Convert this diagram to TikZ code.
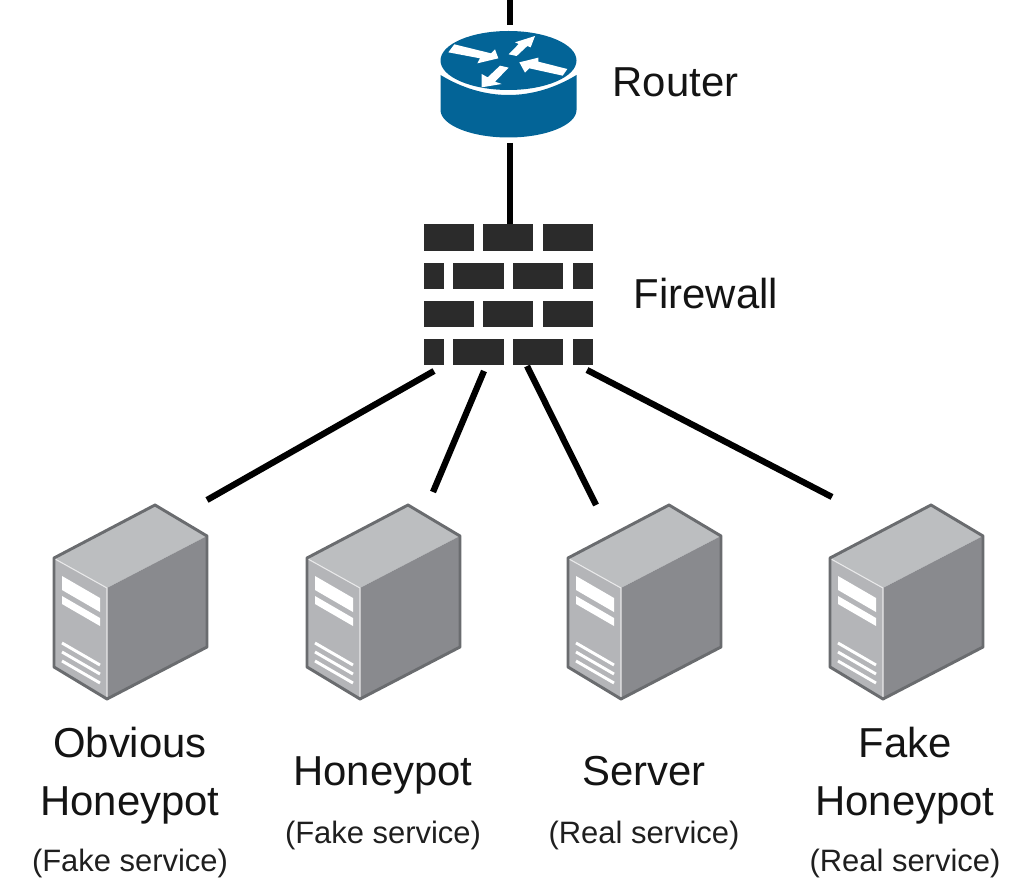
\documentclass[tikz,border=0pt]{standalone}
\usepackage{fontspec}
\setmainfont{Liberation Sans}
\definecolor{routerblue}{HTML}{036497}
\definecolor{brick}{HTML}{2B2B2B}
\definecolor{srvedge}{HTML}{6A6C6F}
\definecolor{srvtop}{HTML}{BCBEC0}
\definecolor{srvside}{HTML}{898A8E}
\definecolor{srvfront}{HTML}{B4B5B8}
\newcommand{\serverat}[2]{%
  \begin{scope}[shift={(#1,#2)}]
    \fill[srvfront] (0,0) -- (53,30) -- (53,141) -- (0,109) -- cycle;
    \fill[srvtop] (0,0) -- (101,-53) -- (153,-22) -- (53,30) -- cycle;
    \fill[srvside] (53,30) -- (153,-22) -- (153,89) -- (53,141) -- cycle;
    \fill[white] (8,18) -- (46,40) -- (46,54) -- (8,32) -- cycle;
    \fill[white] (8,38) -- (46,60) -- (46,68) -- (8,46) -- cycle;
    \draw[ventline] (8,85) -- (46,107);
    \draw[ventline] (8,94) -- (46,116);
    \draw[ventline] (8,103) -- (46,125);
    \draw[white!70!srvfront,line width=.8pt] (1,1) -- (53,30) -- (53,140);
    \draw[srvedge,line width=2.2pt,line join=round] (0,0) -- (101,-53) -- (153,-22) -- (153,89) -- (53,141) -- (0,109) -- cycle;
  \end{scope}}
\tikzset{
  link/.style={line width=4.7pt,black},
  ventline/.style={white,line width=2.2pt},
  bricknode/.style={fill=brick},
  biglabel/.style={font=\fontsize{31.4}{31.4}\selectfont,anchor=base,inner sep=0pt,text=black!92},
  smalllabel/.style={font=\fontsize{23.2}{23.2}\selectfont,anchor=base,inner sep=0pt,text=black!88},
  arrowfill/.style={fill=white}
}
\begin{document}
\begin{tikzpicture}[x=0.75pt,y=-0.75pt]
\useasboundingbox (0,0) rectangle (1027,891);
% connector end points
\coordinate (net) at (510,0);
\coordinate (rtop) at (510,25);
\coordinate (rbot) at (510,143);
\coordinate (fwtop) at (510,226);
\coordinate (fw1) at (434,371);
\coordinate (fw2) at (484,371);
\coordinate (fw3) at (527,366);
\coordinate (fw4) at (587,370);
\coordinate (s1) at (207,500);
\coordinate (s2) at (433,492);
\coordinate (s3) at (596,505);
\coordinate (s4) at (832,497);
\draw[link] (net) -- (rtop);
\draw[link] (rbot) -- (fwtop);
\draw[link] (fw1) -- (s1);
\draw[link] (fw2) -- (s2);
\draw[link] (fw3) -- (s3);
\draw[link] (fw4) -- (s4);
% router
\fill[routerblue] (508.5,60.5) ellipse [x radius=68, y radius=29.5];
\fill[routerblue] (440.5,75) .. controls (462,88) and (485,95) .. (508.5,95) .. controls (532,95) and (555,88) .. (576.5,75) -- (576.5,110) .. controls (576.5,125) and (546,137.5) .. (508.5,137.5) .. controls (471,137.5) and (440.5,125) .. (440.5,110) -- cycle;
\begin{scope}[shift={(420,0)},scale=1/3]
  \fill[arrowfill] (103,133) -- (213,160) -- (225,148) -- (235,175) -- (172,190) -- (180,175) -- (85,157) -- cycle;
  \fill[arrowfill] (266,163) -- (290,168) -- (322,138) -- (332,142) -- (345,108) -- (285,127) -- (296,132) -- cycle;
  \fill[arrowfill] (442,207) -- (355,185) -- (355,173) -- (298,187) -- (315,218) -- (328,205) -- (428,227) -- cycle;
  \fill[arrowfill] (240,197) -- (266,203) -- (225,245) -- (245,252) -- (185,262) -- (185,222) -- (203,232) -- cycle;
\end{scope}
\node[biglabel] (routerlabel) at (675.5,97) {Router};
% firewall
\foreach \ya/\yb in {224.3/251,300.7/326.7}{
  \fill[bricknode] (424,\ya) rectangle (474,\yb);
  \fill[bricknode] (483,\ya) rectangle (533.3,\yb);
  \fill[bricknode] (542.7,\ya) rectangle (592.7,\yb);
}
\foreach \ya/\yb in {262.7/289,338.7/365}{
  \fill[bricknode] (424,\ya) rectangle (444.3,\yb);
  \fill[bricknode] (453.3,\ya) rectangle (503.7,\yb);
  \fill[bricknode] (512.7,\ya) rectangle (563.3,\yb);
  \fill[bricknode] (572.7,\ya) rectangle (592.7,\yb);
}
\node[biglabel] (firewalllabel) at (706,308) {Firewall};
% servers
\serverat{54}{558}
\serverat{307}{558}
\serverat{568}{558}
\serverat{830}{558}
% labels
\node[biglabel] (l1a) at (130,757) {Obvious};
\node[biglabel] (l1b) at (130,815) {Honeypot};
\node[smalllabel] (l1c) at (130,871) {(Fake service)};
\node[biglabel] (l2a) at (383,785) {Honeypot};
\node[smalllabel] (l2b) at (383,843) {(Fake service)};
\node[biglabel] (l3a) at (644,785) {Server};
\node[smalllabel] (l3b) at (644,843) {(Real service)};
\node[biglabel] (l4a) at (905,757) {Fake};
\node[biglabel] (l4b) at (905,815) {Honeypot};
\node[smalllabel] (l4c) at (905,871) {(Real service)};
\end{tikzpicture}
\end{document}
